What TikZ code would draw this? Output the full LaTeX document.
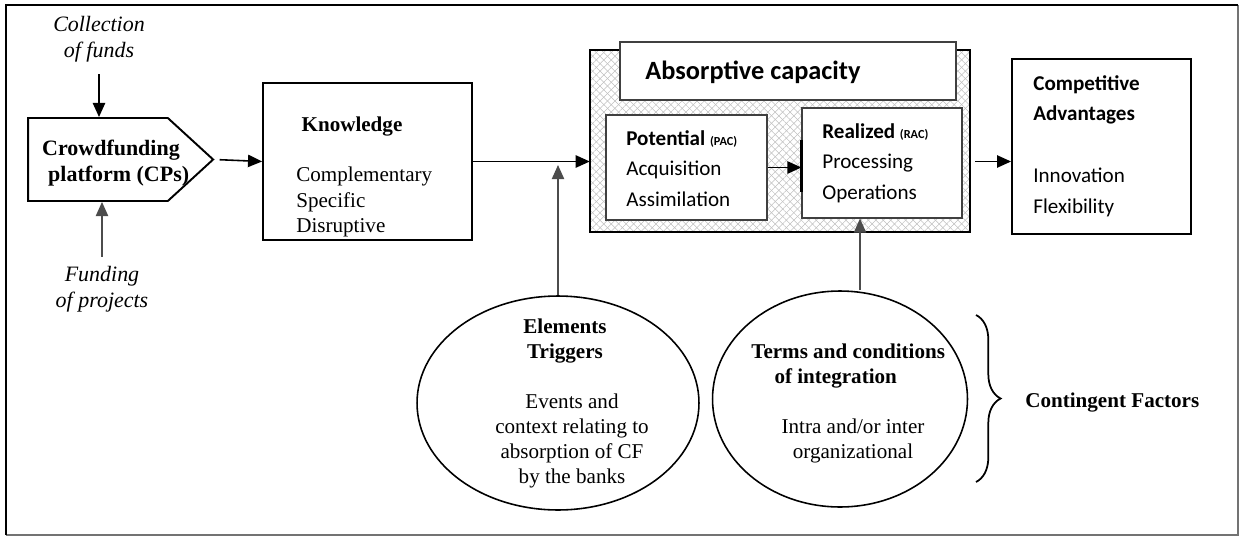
\documentclass[tikz,border=0pt]{standalone}
\usepackage{fontspec}
\setmainfont{Liberation Serif}
\newfontfamily\calibri{Carlito}
\usetikzlibrary{arrows.meta,shapes.geometric,shapes.symbols,patterns.meta,decorations.pathreplacing,positioning}

\begin{document}
\begin{tikzpicture}[
    x = 0.02cm, y = -0.02cm,
    box/.style = {draw, line width=1.1pt, inner sep=0pt},
    inbox/.style = {draw=black!75, line width=0.7pt, fill=white, inner sep=0pt},
    oval/.style = {draw, ellipse, line width=0.9pt, inner sep=0pt},
    conn/.style = {-{Triangle[length=8pt,width=7pt]}, line width=0.9pt},
    thin conn/.style = {conn, draw=black!70, line width=0.7pt},
    ser/.style = {font=\fontsize{12}{14.3}\selectfont, inner sep=0pt, align=center},
    serb/.style = {ser, font=\fontsize{12.5}{15}\selectfont\bfseries},
    sans/.style = {font=\calibri\fontsize{12}{17.5}\selectfont, inner sep=0pt, align=left},
    hatch/.style = {preaction={pattern={Lines[angle=45,distance=3pt,line width=0.3pt]}, pattern color=black!25},
                    pattern={Lines[angle=-45,distance=3pt,line width=0.3pt]}, pattern color=black!25},
  ]
  \useasboundingbox (0,0) rectangle (1240,537);
  % frame
  \draw[black!55, line width=0.6pt] (6,535) -- (1238,535) -- (1238,5);
  \draw[line width=1.4pt] (6,535) -- (6,5) -- (1238,5);

  % platform
  \node[box, signal, signal to=east, signal pointer angle=85,
        minimum width=3.7cm, minimum height=1.66cm] (cp) at (98,159.5) {};
  \node[serb] (cptext) at (111,163) {Crowdfunding\\\hspace*{0.7em}platform (CPs)};
  \node[ser, font=\fontsize{12.5}{14.8}\selectfont\itshape] (collect) at (99,39) {Collection\\of funds};
  \node[ser, font=\fontsize{12.5}{14.8}\selectfont\itshape] (fund) at (102,289) {Funding\\of projects};

  % knowledge
  \node[box, minimum width=4.18cm, minimum height=3.14cm] (know) at (367.5,161.5) {};
  \node[serb, font=\fontsize{12}{14.3}\selectfont\bfseries] (knowtitle) at (352,127) {Knowledge};
  \node[ser, align=left, anchor=north west] (knowlist) at (296,167) {Complementary\\Specific\\Disruptive};

  % absorptive capacity
  \node[box, hatch, minimum width=7.6cm, minimum height=3.64cm] (abs) at (780,141) {};
  \node[inbox, minimum width=6.72cm, minimum height=1.16cm] (abstitle) at (788,71) {};
  \node[sans, font=\calibri\fontsize{15}{18}\selectfont\bfseries] (abstext) at (753,72) {Absorptive capacity};
  \node[inbox, minimum width=3.22cm, minimum height=2.1cm] (pac) at (686.5,167.5) {};
  \node[sans, anchor=north west] (pactext) at (626,130)
    {\textbf{Potential} {\fontsize{7}{8}\selectfont\bfseries (PAC)}\\Acquisition\\Assimilation};
  \node[inbox, minimum width=3.2cm, minimum height=2.2cm] (rac) at (882,163) {};
  \node[sans, anchor=north west] (ractext) at (822,123)
    {\textbf{Realized} {\fontsize{7}{8}\selectfont\bfseries (RAC)}\\Processing\\Operations};

  % competitive advantages
  \node[box, minimum width=3.58cm, minimum height=3.5cm] (comp) at (1101.5,146.5) {};
  \node[sans, anchor=north west, font=\calibri\fontsize{12}{17.5}\selectfont\bfseries] (comptitle) at (1033,75)
    {Competitive\\Advantages};
  \node[sans, anchor=north west, font=\calibri\fontsize{12}{17.5}\selectfont] (complist) at (1033,168)
    {Innovation\\Flexibility};

  % contingent factors
  \node[oval, minimum width=5.64cm, minimum height=4.28cm] (trig) at (558,403) {};
  \node[serb, font=\fontsize{12}{14.3}\selectfont\bfseries] (trigtitle) at (565,341) {Elements\\Triggers};
  \node[ser] (trigtext) at (572,441) {Events and\\context relating to\\absorption of CF\\by the banks};
  \node[oval, minimum width=5.1cm, minimum height=4.32cm] (terms) at (840,399) {};
  \node[serb, font=\fontsize{12}{14.3}\selectfont\bfseries, align=left, anchor=west] (termstitle) at (751,366)
    {Terms and conditions\\\hspace*{1.1em}of integration};
  \node[ser] (termstext) at (853,441) {Intra and/or inter\\organizational};
  \draw[decorate, decoration={brace, amplitude=14pt}, line width=1pt] (976,315) coordinate (bt) -- (976,482) coordinate (bb);
  \node[serb, font=\fontsize{12}{14.3}\selectfont\bfseries, anchor=west] (cf) at (1025,403) {Contingent Factors};

  % connectors
  \draw[conn, shorten <=0.24cm] (collect.south) -- (collect.south |- cp.north);
  \draw[thin conn] ([yshift=5pt]fund.north) -- (fund.north |- cp.south);
  \draw[conn, shorten <=0.1cm] (cp.east) -- (know.west);
  \draw[conn] (know.east) -- (know.east -| abs.west);
  \draw[thin conn] (trig.north) -- ([yshift=-2pt]trig.north |- know.east);
  \draw[conn] (pac.east) -- (pac.east -| rac.west);
  \draw[line width=1.8pt] ([yshift=0.47cm]rac.west) -- ([yshift=-0.59cm]rac.west);
  \draw[thin conn] ([xshift=0.4cm]terms.north) -- ([xshift=0.4cm]terms.north |- rac.south);
  \draw[conn, shorten <=0.1cm] (know.east -| abs.east) -- (know.east -| comp.west);
\end{tikzpicture}
\end{document}
